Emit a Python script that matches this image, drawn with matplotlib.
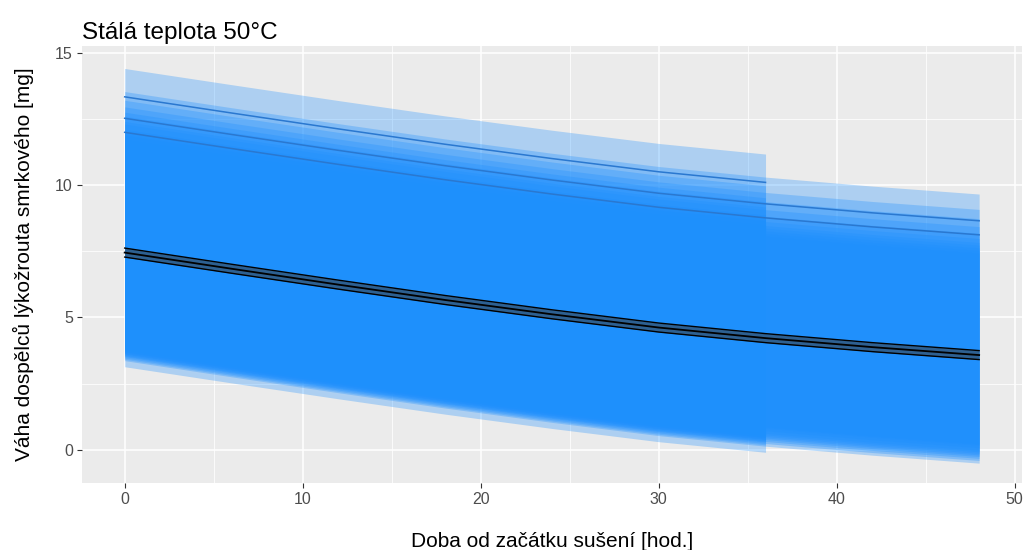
import numpy as np
import matplotlib
matplotlib.use('Agg')
import matplotlib.pyplot as plt

# casova osa a prumerna krivka (cerna)
doba = [0, 6, 12, 18, 24, 30, 36, 42, 48]
prumer = [7.45, 6.84, 6.24, 5.66, 5.12, 4.62, 4.22, 3.88, 3.58]

# pasy jednotlivych brouku - hodnota v case 0, pasy konci v 36 h nebo 48 h
horni_36 = [14.40, 13.20, 12.75, 12.40, 12.10, 11.90, 11.75, 11.60, 11.50, 11.40]
dolni_36 = [3.14, 3.42, 3.52, 3.58, 3.64, 3.70, 3.76, 3.82, 3.90, 4.00]
horni_48 = [13.53, 12.95, 12.60, 12.30, 12.05, 11.85, 11.70, 11.60, 11.50, 11.40, 11.30]
dolni_48 = [3.37, 3.47, 3.55, 3.62, 3.68, 3.74, 3.80, 3.86, 3.95, 4.05, 4.10]

# modre krivky nad pasy (hodnota v case 0)
cary_36 = [13.33]
cary_48 = [12.52, 11.99]

t = np.array(doba)
p = np.array(prumer)
pokles = p[0] - p
m36 = t <= 36

plt.rcParams['font.family'] = ['Liberation Sans', 'DejaVu Sans']

fig = plt.figure(figsize=(10.27, 5.5), dpi=100)
ax = fig.add_axes([0.0798, 0.1218, 0.9152, 0.7946])
ax.set_facecolor('#EBEBEB')

modra = '#1E90FF'
for h, d in zip(horni_36, dolni_36):
    ax.fill_between(t[m36], d - pokles[m36], h - pokles[m36],
                    color=modra, alpha=0.3, linewidth=0, zorder=2)
for h, d in zip(horni_48, dolni_48):
    ax.fill_between(t, d - pokles, h - pokles,
                    color=modra, alpha=0.3, linewidth=0, zorder=2)

for c in cary_36:
    ax.plot(t[m36], c - pokles[m36], color='#2a78d0', lw=1.1, zorder=3)
for c in cary_48:
    ax.plot(t, c - pokles, color='#2a78d0', lw=1.1, zorder=3)

# prumer s uzkym pasem
ax.fill_between(t, p - 0.17, p + 0.17, color='#3a3a3a', alpha=0.55,
                linewidth=0, zorder=4)
ax.plot(t, p + 0.17, color='black', lw=1.0, zorder=5)
ax.plot(t, p - 0.17, color='black', lw=1.0, zorder=5)
ax.plot(t, p, color='black', lw=1.3, zorder=5)

ax.set_xlim(-2.4, 50.4)
ax.set_ylim(-1.25, 15.25)
ax.set_xticks([0, 10, 20, 30, 40, 50])
ax.set_yticks([0, 5, 10, 15])
ax.set_xticks([5, 15, 25, 35, 45], minor=True)
ax.set_yticks([2.5, 7.5, 12.5], minor=True)
ax.grid(True, which='major', color='white', lw=1.1, zorder=0)
ax.grid(True, which='minor', color='white', lw=0.55, zorder=0)
ax.set_axisbelow(True)
for s in ax.spines.values():
    s.set_visible(False)
ax.tick_params(which='major', length=3.5, width=0.8, color='#333333',
               labelsize=11.5, labelcolor='#4D4D4D', pad=3)
ax.tick_params(which='minor', length=0)

ax.set_xlabel('Doba od začátku sušení [hod.]', fontsize=15, labelpad=18)
ax.set_ylabel('Váha dospělců lýkožrouta smrkového [mg]', fontsize=15, labelpad=15)
ax.set_title('Stálá teplota 50°C', fontsize=17.5, loc='left', pad=5)

fig.savefig('out.png', dpi=100)
